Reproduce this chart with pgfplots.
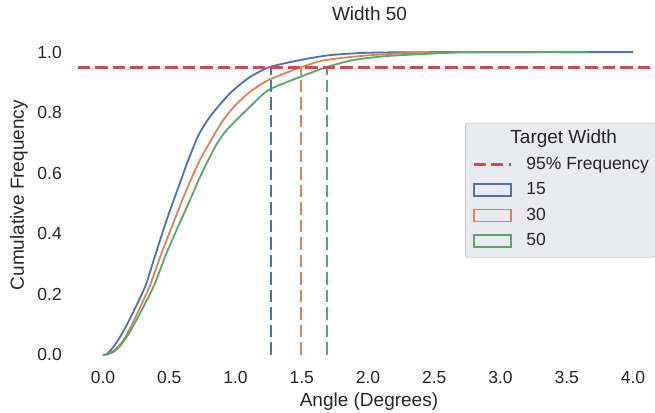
\documentclass[border=0pt]{standalone}
\usepackage{fontspec}
\setmainfont{Liberation Sans}
\usepackage{pgfplots}
\pgfplotsset{compat=1.18}
\usetikzlibrary{calc}
\definecolor{sblue}{HTML}{4C72B0}
\definecolor{sorange}{HTML}{DD8452}
\definecolor{sgreen}{HTML}{55A868}
\definecolor{sred}{HTML}{C44E52}
\definecolor{legbg}{HTML}{EAEAF2}
\definecolor{legedge}{HTML}{CCCCCC}
\definecolor{txt}{HTML}{262626}
\newcommand{\tickfont}{\fontsize{17.5bp}{21bp}\selectfont}
\newcommand{\labfont}{\fontsize{19bp}{23bp}\selectfont}
\pgfplotsset{
  boxleg/.style={legend image code/.code={\draw[##1, sharp corners, line width=1.5bp] (0bp,-6.15bp) rectangle (37bp,6.15bp);}},
  lineleg/.style={legend image code/.code={\draw[##1, sharp corners] (0bp,0bp) -- (37bp,0bp);}},
  ecdf/.style={line width=1.8bp, smooth, tension=0.4, boxleg},
}

\begin{document}
\begin{tikzpicture}
\begin{axis}[name=ax, scale only axis, width=578.5bp, height=333bp,
  xmin=-0.2, xmax=4.166, ymin=-0.05, ymax=1.05,
  axis line style={draw=none}, major tick length=0pt,
  xtick={0,0.5,1,1.5,2,2.5,3,3.5,4},
  xticklabels={0.0,0.5,1.0,1.5,2.0,2.5,3.0,3.5,4.0},
  ytick={0,0.2,0.4,0.6,0.8,1.0},
  yticklabels={0.0,0.2,0.4,0.6,0.8,1.0},
  tick label style={font=\tickfont, text=txt},
  xticklabel style={anchor=north, inner sep=0pt, yshift=-1.5bp},
  yticklabel style={anchor=east, inner sep=0pt, xshift=-14.5bp},
  xlabel={Angle (Degrees)}, ylabel={Cumulative Frequency}, title={Width 50},
  label style={font=\labfont, text=txt, inner sep=0pt},
  xlabel style={at={(axis description cs:0.5056,-0.0691)}, anchor=north},
  ylabel style={at={(axis description cs:-0.115,0.525)}, anchor=north},
  title style={at={(axis description cs:0.5065,1.0309)}, anchor=base, font=\labfont, text=txt, inner sep=0pt},
  legend style={at={(0.6716,0.743)}, anchor=north west, fill=legbg, draw=legedge,
    line width=0.8bp, rounded corners=2.5bp, font=\tickfont, text=txt,
    inner xsep=6.7bp, inner ysep=7.6bp, row sep=8.5bp, column sep=14bp,
    nodes={inner sep=0pt, text height=13bp, text depth=4bp}},
  legend cell align=left,
  clip=true]

\addlegendimage{empty legend}
\addlegendentry{\fontsize{19bp}{23bp}\selectfont\hspace*{-16bp}Target Width}
\addlegendimage{sred, line width=3.3bp, dash pattern=on 12.2bp off 5.3bp, lineleg}
\addlegendentry{95\% Frequency}

% ECDF, target width 15
\addplot[sblue, ecdf] coordinates {
  (0.00,0.000) (0.03,0.003) (0.08,0.027) (0.13,0.060) (0.20,0.116)
  (0.317,0.224) (0.367,0.291) (0.40,0.337) (0.48,0.445) (0.58,0.567)
  (0.644,0.644) (0.72,0.725) (0.808,0.787) (0.958,0.864) (1.11,0.918)
  (1.26,0.951) (1.49,0.974) (1.71,0.990) (2.00,0.998) (2.50,1.000) (4.00,1.000)};
\addlegendentry{15}
% ECDF, target width 30
\addplot[sorange, ecdf] coordinates {
  (0.02,0.000) (0.07,0.010) (0.12,0.030) (0.17,0.060) (0.236,0.116)
  (0.35,0.224) (0.405,0.291) (0.443,0.337) (0.53,0.435) (0.63,0.545)
  (0.732,0.644) (0.83,0.720) (0.908,0.776) (1.00,0.825) (1.11,0.869)
  (1.25,0.908) (1.50,0.951) (1.68,0.974) (2.02,0.990) (2.39,0.998)
  (3.00,1.000) (3.30,1.000)};
\addlegendentry{30}
% ECDF, target width 50
\addplot[sgreen, ecdf] coordinates {
  (0.02,0.000) (0.08,0.010) (0.13,0.030) (0.18,0.060) (0.254,0.116)
  (0.38,0.224) (0.43,0.280) (0.48,0.337) (0.556,0.413) (0.657,0.512)
  (0.732,0.588) (0.85,0.690) (0.934,0.743) (1.11,0.820) (1.25,0.875)
  (1.487,0.918) (1.69,0.951) (1.89,0.974) (2.14,0.987) (2.52,0.996)
  (2.77,1.000) (3.67,1.000)};
\addlegendentry{50}

% 95% crossing points
\addplot[sblue, line width=1.8bp, dash pattern=on 12.5bp off 5bp, forget plot] coordinates {(1.266,0) (1.266,0.95)};
\addplot[sorange, line width=1.8bp, dash pattern=on 12.5bp off 5bp, forget plot] coordinates {(1.494,0) (1.494,0.95)};
\addplot[sgreen, line width=1.8bp, dash pattern=on 12.5bp off 5bp, forget plot] coordinates {(1.688,0) (1.688,0.95)};
\addplot[sred, line width=3.3bp, dash pattern=on 12.2bp off 5.3bp, forget plot] coordinates {(-0.19,0.95) (4.2,0.95)};
\end{axis}
\pgfresetboundingbox
\path ($(ax.south west)+(-76.5bp,-43bp)$) rectangle ++(655bp,413bp);
\end{tikzpicture}
\end{document}
